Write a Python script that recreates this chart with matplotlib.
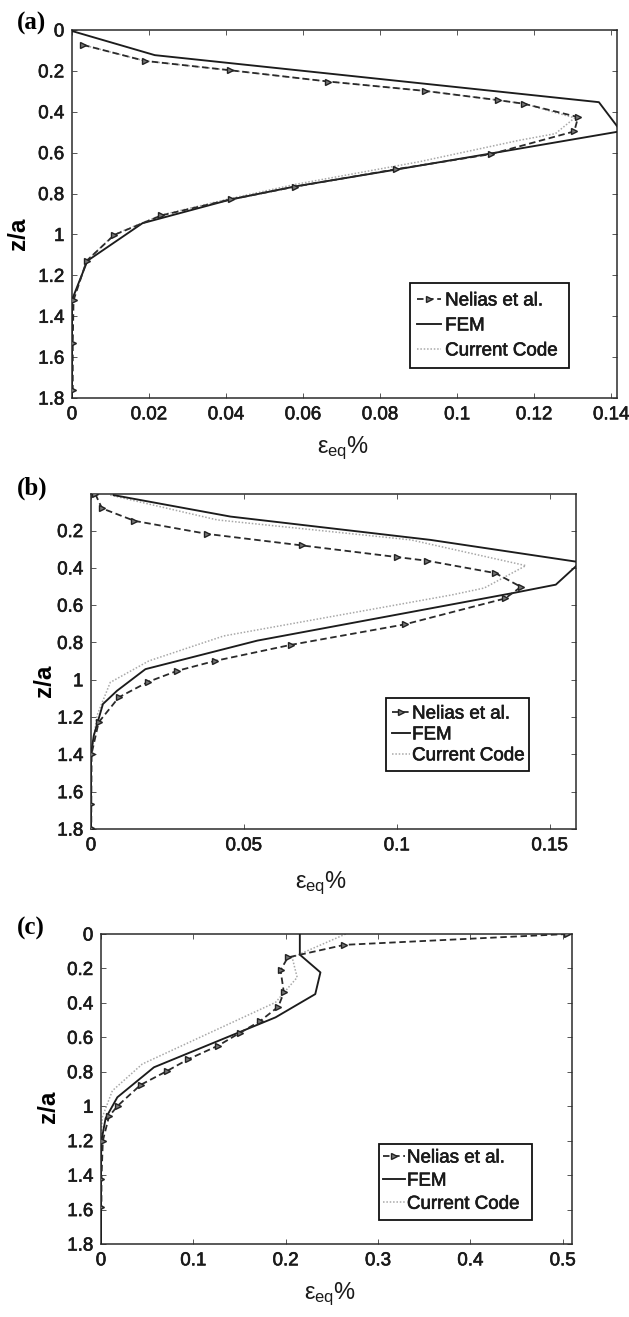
import matplotlib
matplotlib.use("Agg")
import matplotlib.pyplot as plt
import matplotlib.patheffects as pe
from matplotlib.patches import Rectangle
from matplotlib.ticker import FormatStrFormatter

# ---------------------------------------------------------------- data
# (a) equivalent plastic strain vs depth
nelias_a_z = [0.073, 0.151, 0.197, 0.252, 0.298, 0.343, 0.361, 0.426, 0.496, 0.607,
              0.681, 0.766, 0.828, 0.907, 1.002, 1.129, 1.322, 1.532, 1.760]
nelias_a_x = [0.0029, 0.0189, 0.0411, 0.0665, 0.0917, 0.1106, 0.1174, 0.1314, 0.1304, 0.1088,
              0.0841, 0.0580, 0.0413, 0.0232, 0.0110, 0.0038, 0.0004, 0.0002, 0.0002]
fem_a_z = [0.005, 0.123, 0.353, 0.495, 0.600, 0.680, 0.765, 0.830, 0.945, 1.129, 1.320, 1.800]
fem_a_x = [0.0, 0.0215, 0.1368, 0.1425, 0.1100, 0.0850, 0.0580, 0.0410, 0.0183, 0.0040, 0.0, 0.0]
code_a_z = [0.073, 0.151, 0.197, 0.252, 0.298, 0.343, 0.361, 0.430, 0.507, 0.540, 0.645,
            0.755, 0.825, 0.905, 1.000, 1.125, 1.330, 1.800]
code_a_x = [0.0029, 0.0189, 0.0411, 0.0665, 0.0917, 0.1106, 0.1174, 0.1305, 0.1255, 0.1160,
            0.0900, 0.0580, 0.0410, 0.0232, 0.0110, 0.0040, 0.0, 0.0]

# (b)
nelias_b_z = [0.004, 0.081, 0.148, 0.218, 0.280, 0.342, 0.362, 0.428, 0.502, 0.564,
              0.703, 0.813, 0.899, 0.952, 1.011, 1.094, 1.228, 1.396, 1.668, 1.793]
nelias_b_x = [0.0014, 0.0036, 0.0142, 0.0380, 0.0691, 0.1000, 0.1100, 0.1322, 0.1406, 0.1354,
              0.1026, 0.0653, 0.0405, 0.0282, 0.0187, 0.0091, 0.0025, 0.0002, 0.0001, 0.0001]
fem_b_z = [0.010, 0.125, 0.250, 0.370, 0.490, 0.535, 0.790, 0.943, 1.059, 1.130, 1.300, 1.400, 1.800]
fem_b_x = [0.0074, 0.0456, 0.1110, 0.1600, 0.1520, 0.1380, 0.0544, 0.0178, 0.0085, 0.0039, 0.0009, 0.0, 0.0]
code_b_z = [0.010, 0.143, 0.250, 0.388, 0.508, 0.545, 0.765, 0.899, 1.014, 1.190, 1.350, 1.450, 1.800]
code_b_x = [0.0063, 0.0413, 0.1046, 0.1422, 0.1286, 0.1180, 0.0434, 0.0189, 0.0063, 0.0020, 0.0005, 0.0, 0.0]

# (c)
nelias_c_z = [0.0, 0.063, 0.136, 0.210, 0.339, 0.422, 0.507, 0.575, 0.648, 0.727,
              0.797, 0.876, 0.996, 1.058, 1.200, 1.420, 1.584]
nelias_c_x = [0.505, 0.2636, 0.2023, 0.1944, 0.1980, 0.1920, 0.1720, 0.1500, 0.1270, 0.0945,
              0.0710, 0.0429, 0.0184, 0.0087, 0.0020, 0.0005, 0.0005]
fem_c_z = [0.0, 0.120, 0.223, 0.349, 0.484, 0.774, 0.948, 1.070, 1.200, 1.300, 1.800]
fem_c_x = [0.2153, 0.2153, 0.2376, 0.2320, 0.1890, 0.0573, 0.0177, 0.0050, 0.0005, 0.0, 0.0]
code_c_z = [0.0, 0.136, 0.252, 0.397, 0.755, 0.910, 1.064, 1.200, 1.800]
code_c_x = [0.265, 0.207, 0.2124, 0.189, 0.0447, 0.0123, 0.0014, 0.0, 0.0]

series_labels = ["Nelias et al.", "FEM", "Current Code"]
panel_tags = ["(a)", "(b)", "(c)"]
x_ticks_a = [0, 0.02, 0.04, 0.06, 0.08, 0.1, 0.12, 0.14]
x_ticks_b = [0, 0.05, 0.1, 0.15]
x_ticks_c = [0, 0.1, 0.2, 0.3, 0.4, 0.5]
z_ticks_full = [0, 0.2, 0.4, 0.6, 0.8, 1.0, 1.2, 1.4, 1.6, 1.8]
z_ticks_b = [0.2, 0.4, 0.6, 0.8, 1.0, 1.2, 1.4, 1.6, 1.8]

# ---------------------------------------------------------------- style
plt.rcParams["font.family"] = ["Liberation Sans", "DejaVu Sans"]
plt.rcParams["mathtext.fontset"] = "custom"
plt.rcParams["mathtext.rm"] = "Liberation Sans"
plt.rcParams["mathtext.it"] = "Liberation Sans"
plt.rcParams["mathtext.default"] = "regular"

# slightly heavier strokes for the printed-looking text
thick = [pe.withStroke(linewidth=0.45, foreground="#1a1a1a")]

W, H = 629, 1317
fig = plt.figure(figsize=(W / 100, H / 100), dpi=100)


def px_rect(l, t, r, b):
    return [l / W, 1 - b / H, (r - l) / W, (b - t) / H]


panels = [
    dict(rect=(72, 30, 617, 398), xlim=(0, 0.1415), ylim=(1.8, 0), xt=x_ticks_a, zt=z_ticks_full,
         data=(nelias_a_x, nelias_a_z, fem_a_x, fem_a_z, code_a_x, code_a_z),
         box=(0.620, 0.0815, 0.912, 0.3125), hx=0.633, hy=0.196, hl=1.28, htp=0.22, ls=0.42,
         tag=(17, 30), ylab=(19, 234), xlab=(343, 453)),
    dict(rect=(91, 494, 576, 829), xlim=(0, 0.1586), ylim=(1.8, 0.004), xt=x_ticks_b, zt=z_ticks_b,
         data=(nelias_b_x, nelias_b_z, fem_b_x, fem_b_z, code_b_x, code_b_z),
         box=(0.608, 0.173, 0.903, 0.391), hx=0.621, hy=0.281, hl=0.96, htp=0.1, ls=0.2,
         tag=(17, 495), ylab=(44, 681), xlab=(321, 888)),
    dict(rect=(101, 934, 572, 1244), xlim=(0, 0.51), ylim=(1.8, 0), xt=x_ticks_c, zt=z_ticks_full,
         data=(nelias_c_x, nelias_c_z, fem_c_x, fem_c_z, code_c_x, code_c_z),
         box=(0.590, 0.0774, 0.915, 0.3226), hx=0.599, hy=0.203, hl=1.17, htp=0.1, ls=0.32,
         tag=(17, 935), ylab=(49, 1107), xlab=(330, 1299)),
]

for tag, p in zip(panel_tags, panels):
    ax = fig.add_axes(px_rect(*p["rect"]))
    nx, nz, fx, fz, cx, cz = p["data"]
    ax.plot(cx, cz, color="#a8a8a8", ls=(0, (1, 1.2)), lw=1.1, label=series_labels[2], zorder=2)
    ax.plot(fx, fz, color="#1c1c1c", lw=1.35, label=series_labels[1], zorder=3)
    ax.plot(nx, nz, color="#2a2a2a", ls=(0, (3.6, 2.0)), lw=1.3, marker=">", ms=4.3,
            mfc="#777777", mec="#222222", mew=1.0, label=series_labels[0], zorder=4)

    ax.set_xlim(*p["xlim"])
    ax.set_ylim(*p["ylim"])
    ax.set_xticks(p["xt"])
    ax.set_yticks(p["zt"])
    ax.xaxis.set_major_formatter(FormatStrFormatter("%g"))
    ax.yaxis.set_major_formatter(FormatStrFormatter("%g"))
    ax.tick_params(direction="in", top=True, right=True, length=3.6, width=0.7,
                   color="#555555", labelsize=13.5, labelcolor="#1a1a1a")
    ax.tick_params(axis="x", pad=6)
    ax.tick_params(axis="y", pad=5.5)
    for lab in ax.get_xticklabels() + ax.get_yticklabels():
        lab.set_path_effects(thick)
    for s in ax.spines.values():
        s.set_linewidth(1.1)
        s.set_color("#2b2b2b")

    # legend with its own frame
    bx0, by0, bx1, by1 = p["box"]
    ax.add_patch(Rectangle((bx0, by0), bx1 - bx0, by1 - by0, transform=ax.transAxes,
                           facecolor="white", edgecolor="#111111", lw=1.3, zorder=6))
    h, l = ax.get_legend_handles_labels()
    order = [2, 1, 0]
    leg = ax.legend([h[i] for i in order], [l[i] for i in order], loc="center left",
                    bbox_to_anchor=(p["hx"], p["hy"]), frameon=False, fontsize=13.5,
                    handlelength=p["hl"], handletextpad=p["htp"], labelspacing=p["ls"],
                    borderpad=0, borderaxespad=0, numpoints=1)
    leg.set_zorder(7)
    for t in leg.get_texts():
        t.set_color("#1a1a1a")
        t.set_path_effects(thick)

    tx, ty = p["tag"]
    fig.text(tx / W, 1 - ty / H, tag, family="Liberation Serif", weight="bold",
             fontsize=18, va="baseline", ha="left")
    yx, yy = p["ylab"]
    fig.text(yx / W, 1 - yy / H, "z/a", rotation=90, fontsize=17.5, fontweight="bold",
             ha="center", va="center")
    xx, xy = p["xlab"]
    fig.text(xx / W, 1 - xy / H, r"$ε_{eq}$%", fontsize=17, ha="center", va="baseline",
             color="#1a1a1a")

fig.savefig("out.png", dpi=100)
